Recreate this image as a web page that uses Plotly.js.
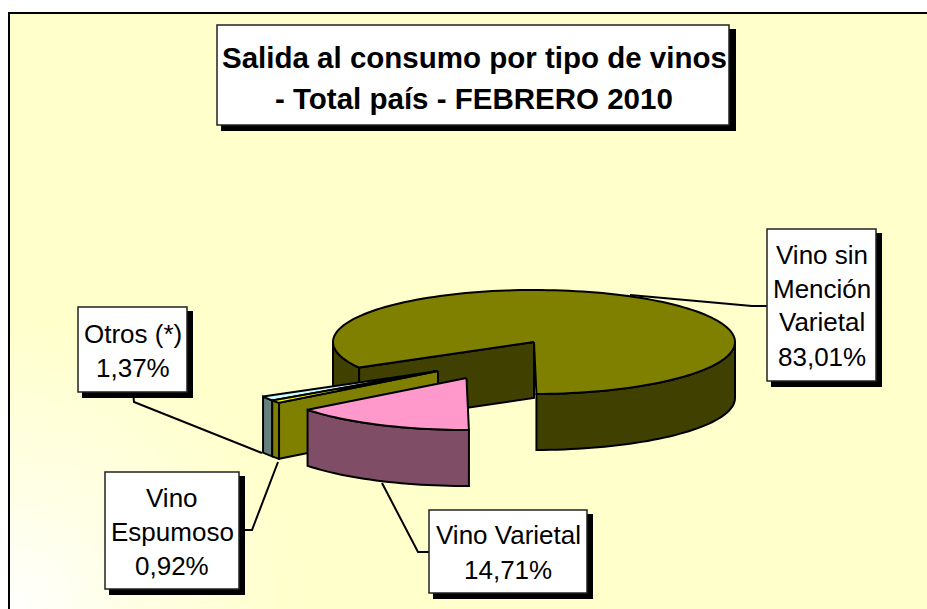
<!DOCTYPE html>
<html>
<head>
<meta charset="utf-8">
<script src="https://cdn.plot.ly/plotly-3.0.1.min.js"></script>
<style>
html,body{margin:0;padding:0;background:#fff;}
#wrap{position:relative;width:927px;height:609px;overflow:hidden;}
#bg{position:absolute;left:9px;top:13px;right:0;bottom:0;background:radial-gradient(circle at 0 100%,#ffffff 0,#ffffe6 120px,#ffffcc 290px);}
#chart{position:absolute;left:0;top:0;width:927px;height:609px;}
</style>
</head>
<body>
<div id="wrap"><div id="bg"></div><div id="chart"></div></div>
<script>
// Data
const categories = ["Vino sin Mención Varietal", "Vino Varietal", "Vino Espumoso", "Otros (*)"];
const values = [83.01, 14.71, 0.92, 1.37];
const titleLines = ["Salida al consumo por tipo de vinos", "- Total país - FEBRERO 2010"];
const labelLines = [["Vino sin", "Mención", "Varietal"], ["Vino Varietal"], ["Vino", "Espumoso"], ["Otros (*)"]];
const topColors = ["#808000", "#FF99CC", "#FFFF00", "#CCFFFF"];
const sideColors = ["#404000", "#804D66", "#808000", "#668080"];

// Pie projection (pixel axes)
const RX = 201, RY = 52, DEPTH = 56, START = 240.5;
const centers = [{x:534,y:342},{x:466.5,y:378},{x:438,y:371},{x:438,y:371}];
const total = values.reduce((a,b)=>a+b,0);
const rad = d => d*Math.PI/180;
const pt = (c,th,dz=0) => [c.x+RX*Math.sin(rad(th)), c.y-RY*Math.cos(rad(th))+dz];
const arc = (c,a,b,dz=0) => { const n=Math.max(2,Math.ceil(Math.abs(b-a)/2)); const r=[]; for(let i=0;i<=n;i++) r.push(pt(c,a+(b-a)*i/n,dz)); return r; };

const spans = {}; let cur = START;
// clockwise order from the start angle: main, then varietal, espumoso, otros
values.forEach((v,i)=>{ const s=v/total*360; spans[i]=[cur,cur+s]; cur+=s; });

const traces = [];
function poly(points, fill, name){
  const p = points.concat([points[0]]);
  traces.push({type:"scatter",mode:"lines",x:p.map(q=>q[0]),y:p.map(q=>q[1]),fill:"toself",fillcolor:fill,
    line:{color:"#000",width:2,simplify:false},name:name,hoverinfo:"name",showlegend:false});
}
function outerFace(i,a,b){ const c=centers[i]; poly(arc(c,a,b).concat(arc(c,b,a,DEPTH)),sideColors[i],categories[i]); }
function cutFace(i,th){ const c=centers[i]; poly([[c.x,c.y],pt(c,th),pt(c,th,DEPTH),[c.x,c.y+DEPTH]],sideColors[i],categories[i]); }
function topFace(i){ const c=centers[i]; const [a,b]=spans[i]; poly([[c.x,c.y]].concat(arc(c,a,b)),topColors[i],categories[i]); }

const m = spans[0];
cutFace(0,m[0]);
outerFace(0,m[0],270);
outerFace(0,450,m[1]);
topFace(0);
// Otros
outerFace(3,spans[3][0]-360,spans[3][1]-360);
topFace(3);
// Espumoso
outerFace(2,spans[2][0]-360,spans[2][1]-360);
cutFace(2,spans[2][0]-360);
topFace(2);
// Varietal
outerFace(1,spans[1][0]-360,spans[1][1]-360);
topFace(1);

// Boxes [left, top, right, bottom]
const titleBox = [217,25,729,125];
const boxes = [[767,229,876,381],[429,510,587,593],[105,472,239,589],[78,307,187,392]];
const lineY = [[255,289,322,357],[535,570],[498,532,566],[334,368]];
const titleY = [57,98];

const shapes = [];
const leader = (pts)=>shapes.push({type:"path",xref:"x",yref:"y",layer:"above",path:"M"+pts.map(p=>p.join(",")).join("L"),line:{color:"#000",width:2}});
leader([[630,295],[752,306],[767,306]]);
leader([[382,483],[418,552],[429,552]]);
leader([[278,462],[252,530],[240,530]]);
leader([[133,392],[134,402],[262,453]]);
leader([[9,609],[9,13],[927,13]]);
const box = (b,sx,sy)=>{
  shapes.push({type:"rect",xref:"x",yref:"y",layer:"above",x0:b[0]+4,y0:b[1]+4,x1:b[2]+sx,y1:b[3]+sy,fillcolor:"#000",line:{width:0}});
  shapes.push({type:"rect",xref:"x",yref:"y",layer:"above",x0:b[0],y0:b[1],x1:b[2],y1:b[3],fillcolor:"#fff",line:{color:"#222",width:1.5}});
};
box(titleBox,7,6);
boxes.forEach(b=>box(b,6,6));

const annotations = [];
const addText = (t,x,y,size,bold)=>annotations.push({text:bold?"<b>"+t+"</b>":t,x:x,y:y,xref:"x",yref:"y",xanchor:"center",yanchor:"middle",showarrow:false,
  font:{family:"Liberation Sans, Arial, sans-serif",size:size,color:"#000"}});
titleLines.forEach((t,i)=>addText(t,(titleBox[0]+titleBox[2])/2+1,titleY[i],29.5,true));
boxes.forEach((b,i)=>{
  const cx=(b[0]+b[2])/2;
  const lines=labelLines[i].concat([values[i].toFixed(2).replace(".",",")+"%"]);
  lines.forEach((t,k)=>addText(t,cx,lineY[i][k],26,false));
});

Plotly.newPlot("chart",traces,{
  width:927,height:609,margin:{l:0,r:0,t:0,b:0},
  paper_bgcolor:"rgba(0,0,0,0)",plot_bgcolor:"rgba(0,0,0,0)",
  xaxis:{range:[0,927],visible:false,fixedrange:true},
  yaxis:{range:[609,0],visible:false,fixedrange:true},
  shapes:shapes,annotations:annotations,showlegend:false
},{displayModeBar:false,staticPlot:true});
</script>
</body>
</html>
